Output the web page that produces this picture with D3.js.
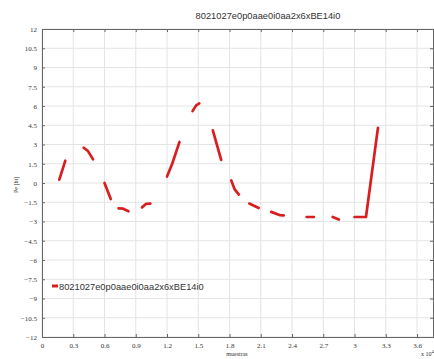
<!DOCTYPE html>
<html lang="en">
<head>
  <meta charset="utf-8" />
  <title>Pe chart</title>
  <script src="https://d3js.org/d3.v7.min.js"></script>
  <style>
    body { margin: 0; background: #fff; }
    .grid line { stroke: #e4e4e4; stroke-width: 1px; }
    .tick text { font-family: "Liberation Serif", "DejaVu Serif", serif; font-size: 7px; fill: #333; }
  </style>
</head>
<body>
<svg id="chart" width="434" height="359"></svg>
<script>
// samples (x in units of 10^4), null = missing sample
var seriesName = "8021027e0p0aae0i0aa2x6xBE14i0";
var xs = [0.166, 0.224, null,
          0.40, 0.44, 0.49, null,
          0.60, 0.66, null,
          0.735, 0.78, 0.83, null,
          0.96, 1.0, 1.04, null,
          1.20, 1.25, 1.32, null,
          1.445, 1.48, 1.51, null,
          1.64, 1.72, null,
          1.817, 1.85, 1.89, null,
          1.99, 2.08, null,
          2.20, 2.28, 2.32, null,
          2.54, 2.61, null,
          2.79, 2.85, null,
          3.00, 3.11, 3.225];
var ys = [0.26, 1.74, null,
          2.75, 2.5, 1.84, null,
          0.0, -1.25, null,
          -1.98, -2.0, -2.2, null,
          -1.9, -1.62, -1.6, null,
          0.5, 1.5, 3.2, null,
          5.6, 6.05, 6.2, null,
          4.1, 1.8, null,
          0.2, -0.5, -0.9, null,
          -1.6, -1.95, null,
          -2.25, -2.5, -2.52, null,
          -2.65, -2.65, null,
          -2.65, -2.85, null,
          -2.65, -2.65, 4.3];
var xTicks = [0, 0.3, 0.6, 0.9, 1.2, 1.5, 1.8, 2.1, 2.4, 2.7, 3, 3.3, 3.6];
var yTicks = [-12, -10.5, -9, -7.5, -6, -4.5, -3, -1.5, 0, 1.5, 3, 4.5, 6, 7.5, 9, 10.5, 12];

drawChart(434, 359);

function drawChart(width, height) {
  var svg = d3.select("#chart");
  var left = 42, right = 434, top = 29, bottom = 337;

  var x = d3.scaleLinear().domain([0, 3.763]).range([left, right]);
  var y = d3.scaleLinear().domain([-12, 12]).range([bottom, top]);

  // grid
  var grid = svg.append("g").attr("class", "grid");
  grid.selectAll("line.v").data(xTicks).enter().append("line")
    .attr("x1", function(d) { return x(d); }).attr("x2", function(d) { return x(d); })
    .attr("y1", top).attr("y2", bottom);
  grid.selectAll("line.h").data(yTicks).enter().append("line")
    .attr("x1", left).attr("x2", right)
    .attr("y1", function(d) { return y(d); }).attr("y2", function(d) { return y(d); });

  var fmt = function(d) { return d3.format("")(d); };

  svg.append("g")
    .attr("transform", "translate(0," + bottom + ")")
    .call(d3.axisBottom(x).tickValues(xTicks).tickFormat(fmt).tickSizeInner(-3).tickSizeOuter(0).tickPadding(6));
  svg.append("g")
    .attr("transform", "translate(0," + top + ")")
    .call(d3.axisTop(x).tickValues(xTicks).tickFormat("").tickSizeInner(-3).tickSizeOuter(0));
  svg.append("g")
    .attr("transform", "translate(" + left + ",0)")
    .call(d3.axisLeft(y).tickValues(yTicks).tickFormat(fmt).tickSizeInner(-3).tickSizeOuter(0).tickPadding(5));
  svg.append("g")
    .attr("transform", "translate(" + (right - 1) + ",0)")
    .call(d3.axisRight(y).tickValues(yTicks).tickFormat("").tickSizeInner(-3).tickSizeOuter(0));

  svg.selectAll(".domain").attr("stroke", "#666");
  svg.selectAll(".tick line").attr("stroke", "#666");

  // data line
  var pts = xs.map(function(d, i) { return [d, ys[i]]; });
  var line = d3.line()
    .defined(function(d) { return d[0] !== null && d[1] !== null; })
    .x(function(d) { return x(d[0]); })
    .y(function(d) { return y(d[1]); });
  svg.append("path")
    .datum(pts)
    .attr("d", line)
    .attr("fill", "none")
    .attr("stroke", "#d81e1e")
    .attr("stroke-width", 2.7)
    .attr("stroke-linecap", "round")
    .attr("stroke-linejoin", "round");

  // title
  svg.append("text")
    .attr("x", 268).attr("y", 19)
    .attr("text-anchor", "middle")
    .style("font-family", "Liberation Sans, Arial, sans-serif")
    .style("font-size", "9.3px").style("fill", "#333")
    .text(seriesName);

  // legend
  svg.append("line")
    .attr("x1", 52).attr("x2", 58).attr("y1", 286).attr("y2", 286)
    .attr("stroke", "#d81e1e").attr("stroke-width", 3);
  svg.append("text")
    .attr("x", 59).attr("y", 289.5)
    .style("font-family", "Liberation Sans, Arial, sans-serif")
    .style("font-size", "9.3px").style("fill", "#333")
    .text(seriesName);

  // axis labels
  svg.append("text")
    .attr("transform", "translate(18,185) rotate(-90)")
    .attr("text-anchor", "middle")
    .style("font-family", "Liberation Serif, serif")
    .style("font-size", "6px").style("fill", "#333")
    .text("Pe [bt]");
  svg.append("text")
    .attr("x", 237).attr("y", 356)
    .attr("text-anchor", "middle")
    .style("font-family", "Liberation Serif, serif")
    .style("font-size", "6px").style("fill", "#333")
    .text("muestras");
  var sc = svg.append("text")
    .attr("x", 421).attr("y", 356)
    .style("font-family", "Liberation Serif, serif")
    .style("font-size", "6px").style("fill", "#333");
  sc.append("tspan").text("x 10");
  sc.append("tspan").attr("dy", -3).style("font-size", "5px").text("4");
}
</script>
</body>
</html>
